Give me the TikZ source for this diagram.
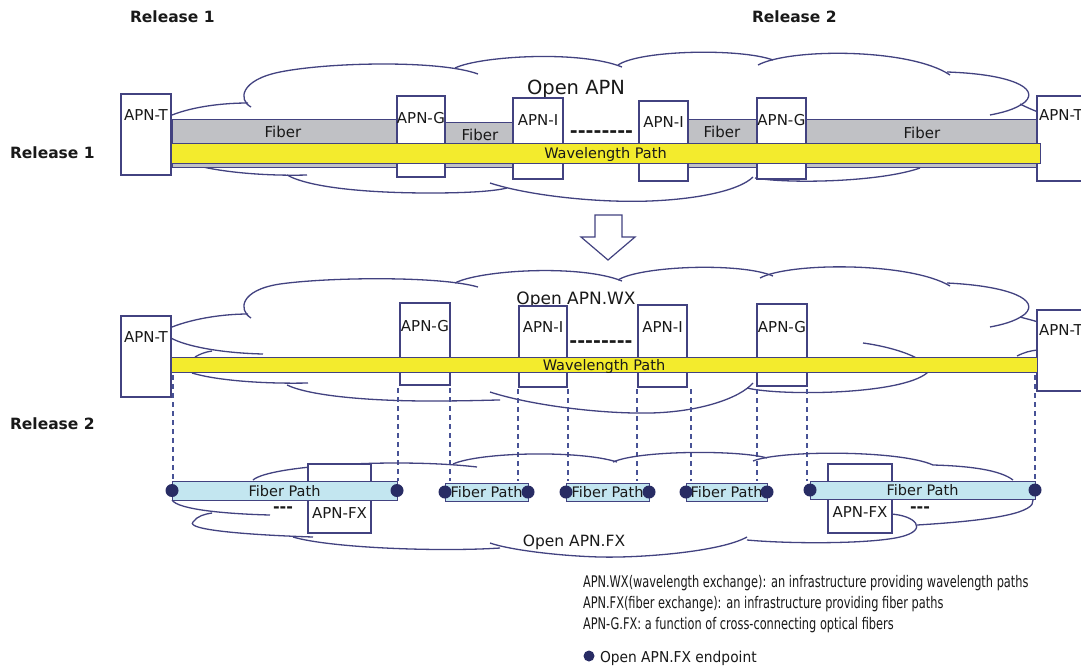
\documentclass[tikz,border=0pt]{standalone}
\usepackage{fontspec}
\setmainfont{DejaVu Sans}
\newfontfamily\legendfont{DejaVu Sans}[FakeStretch=0.71]
\newfontfamily\keyfont{DejaVu Sans}[FakeStretch=0.92]

\definecolor{edgecol}{RGB}{66,66,128}
\definecolor{txtcol}{RGB}{25,25,25}
\definecolor{fibergray}{RGB}{192,193,197}
\definecolor{wlyellow}{RGB}{243,235,45}
\definecolor{fpblue}{RGB}{195,230,240}
\definecolor{dotcol}{RGB}{40,44,100}
\definecolor{dashcol}{RGB}{72,82,150}

\begin{document}
\begin{tikzpicture}[x=1pt,y=-1pt,
  every node/.style={inner sep=0pt, outer sep=0pt, text=txtcol},
  cloudline/.style={draw=edgecol, line width=1.3pt},
  apnbox/.style={draw=edgecol, fill=white, line width=1.2pt, anchor=north west},
  lbl/.style={font=\fontsize{15}{16}\selectfont, anchor=base},
  fiberbar/.style={draw=edgecol, fill=fibergray, line width=1pt, anchor=north west},
  wlbar/.style={draw=edgecol, fill=wlyellow, line width=1pt, anchor=north west,
    font=\fontsize{14.5}{15}\selectfont, text depth=0pt},
  fpbar/.style={draw=edgecol, fill=fpblue, line width=1pt, anchor=north west,
    font=\fontsize{14.5}{15}\selectfont, text depth=0pt},
  endpt/.style={circle, fill=dotcol, minimum size=13pt},
  drop/.style={draw=dashcol, line width=1.3pt, dash pattern=on 5pt off 4pt},
  rel/.style={font=\fontsize{15.5}{17}\selectfont\bfseries, anchor=base west},
  dashtxt/.style={font=\fontsize{19}{19}\selectfont\bfseries, anchor=base},
  legend/.style={font=\legendfont\fontsize{16}{18}\selectfont, anchor=base west},
]
\useasboundingbox[fill=white] (0,0) rectangle (1081,667);

% ---------------- headings ----------------
\node[rel] (hr1) at (130,22) {Release 1};
\node[rel] (hr2) at (752,22) {Release 2};
\node[rel] (sr1) at (10,158) {Release 1};
\node[rel] (sr2) at (10,429) {Release 2};

% ---------------- Release 1: Open APN cloud ----------------
\draw[cloudline] (172,115) .. controls (195,106) and (225,103) .. (248,103);
\draw[cloudline] (251,107) .. controls (238,100) and (240,80) .. (280,72) .. controls (330,62) and (440,60) .. (478,74);
\draw[cloudline] (455,68) .. controls (480,56) and (580,50) .. (622,67);
\draw[cloudline] (618,65) .. controls (640,50) and (740,48) .. (773,60);
\draw[cloudline] (758,65) .. controls (790,48) and (910,48) .. (950,75);
\draw[cloudline] (947,72) .. controls (1010,74) and (1040,88) .. (1025,102) .. controls (1015,110) and (1000,113) .. (990,115);
\draw[cloudline] (1020,104) .. controls (1028,108) and (1033,110) .. (1038,112);
\draw[cloudline] (203,167) .. controls (230,173) and (270,176) .. (307,175);
\draw[cloudline] (287,175) .. controls (310,188) and (370,193) .. (430,193) .. controls (470,193) and (495,191) .. (507,188);
\draw[cloudline] (490,183) .. controls (530,196) and (600,203) .. (650,201) .. controls (700,199) and (740,190) .. (753,177);
\draw[cloudline] (755,178) .. controls (790,184) and (880,182) .. (920,168);
\node[font=\fontsize{19.5}{21}\selectfont, anchor=base] (c1name) at (576,94) {Open APN};

% fibers between nodes
\node[fiberbar, minimum width=225pt, minimum height=48pt] (f1) at (172,119) {};
\node[fiberbar, minimum width=68pt, minimum height=45pt] (f2) at (445,122) {};
\node[fiberbar, minimum width=69pt, minimum height=48pt] (f3) at (688,119) {};
\node[fiberbar, minimum width=231pt, minimum height=48pt] (f4) at (806,119) {};
\node[lbl] (f1l) at (283,137.5) {Fiber};
\node[lbl] (f2l) at (480,140.5) {Fiber};
\node[lbl] (f3l) at (722,137.5) {Fiber};
\node[lbl] (f4l) at (922,138.5) {Fiber};

% network elements
\node[apnbox, minimum width=50pt, minimum height=81pt] (t1) at (121,94) {};
\node[apnbox, minimum width=48pt, minimum height=81pt] (g1) at (397,96) {};
\node[apnbox, minimum width=50pt, minimum height=81pt] (i1) at (513,98) {};
\node[apnbox, minimum width=49pt, minimum height=80pt] (i2) at (639,101) {};
\node[apnbox, minimum width=49pt, minimum height=81pt] (g2) at (757,98) {};
\node[apnbox, minimum width=60pt, minimum height=85pt] (t2) at (1037,96) {};
\node[lbl] (t1l) at (146,120.5) {APN-T};
\node[lbl] (g1l) at (421,123.5) {APN-G};
\node[lbl] (i1l) at (538,125.5) {APN-I};
\node[lbl] (i2l) at (663.5,127.5) {APN-I};
\node[lbl] (g2l) at (781.5,125.5) {APN-G};
\node[lbl, anchor=base west] (t2l) at (1039,120.5) {APN-T};
\node[dashtxt] (dd1) at (601.5,137.5) {-{}-{}-{}-{}-{}-{}-{}-};

\node[wlbar, minimum width=869pt, minimum height=20pt] (wl1) at (171,143) {Wavelength Path};

% ---------------- evolution arrow ----------------
\draw[edgecol, fill=white, line width=1.2pt, line join=miter]
  (595,215) -- (622,215) -- (622,237) -- (635,237) -- (608,260) -- (581,237) -- (595,237) -- cycle;

% ---------------- Release 2: Open APN.WX cloud ----------------
\draw[cloudline] (172,327) .. controls (195,318) and (225,314) .. (248,314);
\draw[cloudline] (251,318) .. controls (238,310) and (240,290) .. (280,284) .. controls (330,277) and (440,276) .. (478,287);
\draw[cloudline] (455,283) .. controls (480,270) and (580,264) .. (622,281);
\draw[cloudline] (618,280) .. controls (640,266) and (740,262) .. (773,276);
\draw[cloudline] (760,278) .. controls (790,262) and (910,262) .. (950,286);
\draw[cloudline] (947,283) .. controls (1010,286) and (1040,300) .. (1025,314) .. controls (1015,322) and (1000,325) .. (990,327);
\draw[cloudline] (1020,317) .. controls (1027,319) and (1032,320) .. (1038,322);
\draw[cloudline] (171,338) .. controls (185,346) and (220,353) .. (263,354);
\draw[cloudline] (195,357) .. controls (200,354) and (205,352) .. (212,351);
\draw[cloudline] (192,373) .. controls (215,380) and (260,384) .. (308,383);
\draw[cloudline] (287,385) .. controls (310,396) and (370,401) .. (430,401) .. controls (470,401) and (492,400) .. (500,400);
\draw[cloudline] (490,392) .. controls (530,405) and (600,414) .. (650,413) .. controls (700,412) and (740,398) .. (753,383);
\draw[cloudline] (747,388) .. controls (780,396) and (900,395) .. (927,373) .. controls (935,362) and (900,348) .. (863,343);
\draw[cloudline] (1017,356) .. controls (1025,352) and (1030,351) .. (1037,350);
\node[font=\fontsize{17}{19}\selectfont, anchor=base] (c2name) at (576,304) {Open APN.WX};

\node[apnbox, minimum width=50pt, minimum height=81pt] (t3) at (121,316) {};
\node[apnbox, minimum width=50pt, minimum height=82pt] (g3) at (400,303) {};
\node[apnbox, minimum width=48pt, minimum height=81pt] (i3) at (519,306) {};
\node[apnbox, minimum width=49pt, minimum height=82pt] (i4) at (638,305) {};
\node[apnbox, minimum width=50pt, minimum height=82pt] (g4) at (757,304) {};
\node[apnbox, minimum width=60pt, minimum height=81pt] (t4) at (1037,310) {};
\node[lbl] (t3l) at (146,342.5) {APN-T};
\node[lbl] (g3l) at (425,331.5) {APN-G};
\node[lbl] (i3l) at (543,332.5) {APN-I};
\node[lbl] (i4l) at (662.5,332.5) {APN-I};
\node[lbl] (g4l) at (782,332.5) {APN-G};
\node[lbl, anchor=base west] (t4l) at (1039,335.5) {APN-T};
\node[dashtxt] (dd2) at (601,347.5) {-{}-{}-{}-{}-{}-{}-{}-};

\node[wlbar, minimum width=866pt, minimum height=15pt] (wl2) at (171,357) {Wavelength Path};

% drop lines from the wavelength layer to the fiber layer
\foreach \n/\x/\ya in {1/173/375, 2/398/388, 3/450/388, 4/518/389, 5/568/389,
                       6/637/389, 7/691/389, 8/757/389, 9/807/389, 10/1035/375} {
  \coordinate (up\n) at (\x,\ya);
  \coordinate (dn\n) at (\x,481);
  \draw[drop] (up\n) -- (dn\n);
}

% ---------------- Open APN.FX cloud ----------------
\draw[cloudline] (253,480) .. controls (270,465) and (400,458) .. (477,467);
\draw[cloudline] (453,464) .. controls (480,452) and (580,450) .. (617,462);
\draw[cloudline] (613,462) .. controls (640,450) and (740,450) .. (767,458);
\draw[cloudline] (753,461) .. controls (780,450) and (900,450) .. (933,465);
\draw[cloudline] (933,465) .. controls (970,466) and (1000,470) .. (1013,480);
\draw[cloudline] (1033,500) .. controls (1035,512) and (1000,520) .. (917,525);
\draw[cloudline] (890,514) .. controls (915,515) and (930,530) .. (900,537) .. controls (870,544) and (790,544) .. (747,540);
\draw[cloudline] (747,537) .. controls (720,552) and (640,558) .. (600,557) .. controls (560,556) and (510,550) .. (490,543);
\draw[cloudline] (500,548) .. controls (440,552) and (330,548) .. (293,537);
\draw[cloudline] (172,500) .. controls (178,510) and (230,514) .. (270,515);
\draw[cloudline] (313,537) .. controls (250,535) and (185,530) .. (193,522) .. controls (197,516) and (205,514) .. (212,513);
\node[font=\fontsize{15.5}{17}\selectfont, anchor=base] (c3name) at (574,546) {Open APN.FX};

% fiber cross-connects
\node[apnbox, minimum width=63pt, minimum height=69pt] (fx1) at (308,464) {};
\node[apnbox, minimum width=64pt, minimum height=69pt] (fx2) at (828,464) {};
\node[lbl] (fx1l) at (339.5,518.5) {APN-FX};
\node[lbl] (fx2l) at (860,517.5) {APN-FX};
\node[font=\fontsize{16}{16}\selectfont\bfseries, anchor=base] (dd3) at (283,512.5) {-{}-{}-};
\node[font=\fontsize{16}{16}\selectfont\bfseries, anchor=base] (dd4) at (920,512.5) {-{}-{}-};

% fiber paths with their endpoints
\node[fpbar, minimum width=225pt, minimum height=19pt] (fp1) at (172,481) {Fiber Path};
\node[fpbar, minimum width=83pt, minimum height=18pt] (fp2) at (445,483) {Fiber Path};
\node[fpbar, minimum width=83pt, minimum height=18pt] (fp3) at (566,483) {Fiber Path};
\node[fpbar, minimum width=81pt, minimum height=18pt] (fp4) at (686,483) {Fiber Path};
\node[fpbar, minimum width=225pt, minimum height=18pt] (fp5) at (810,481) {Fiber Path};
\node[endpt] (e1a) at (fp1.west) {};
\node[endpt] (e1b) at (fp1.east) {};
\node[endpt] (e2a) at (fp2.west) {};
\node[endpt] (e2b) at (fp2.east) {};
\node[endpt] (e3a) at (fp3.west) {};
\node[endpt] (e3b) at (fp3.east) {};
\node[endpt] (e4a) at (fp4.west) {};
\node[endpt] (e4b) at (fp4.east) {};
\node[endpt] (e5a) at (fp5.west) {};
\node[endpt] (e5b) at (fp5.east) {};

% ---------------- legend ----------------
\node[legend] (lg1) at (583,587) {APN.WX(wavelength exchange): an infrastructure providing wavelength paths};
\node[legend] (lg2) at (583,608) {APN.FX(fiber exchange): an infrastructure providing fiber paths};
\node[legend] (lg3) at (583,629) {APN-G.FX: a function of cross-connecting optical fibers};
\node[endpt, minimum size=11pt] (lgdot) at (589,656) {};
\node[legend, font=\keyfont\fontsize{15}{17}\selectfont] (lg4) at (600,662) {Open APN.FX endpoint};

\end{tikzpicture}
\end{document}
